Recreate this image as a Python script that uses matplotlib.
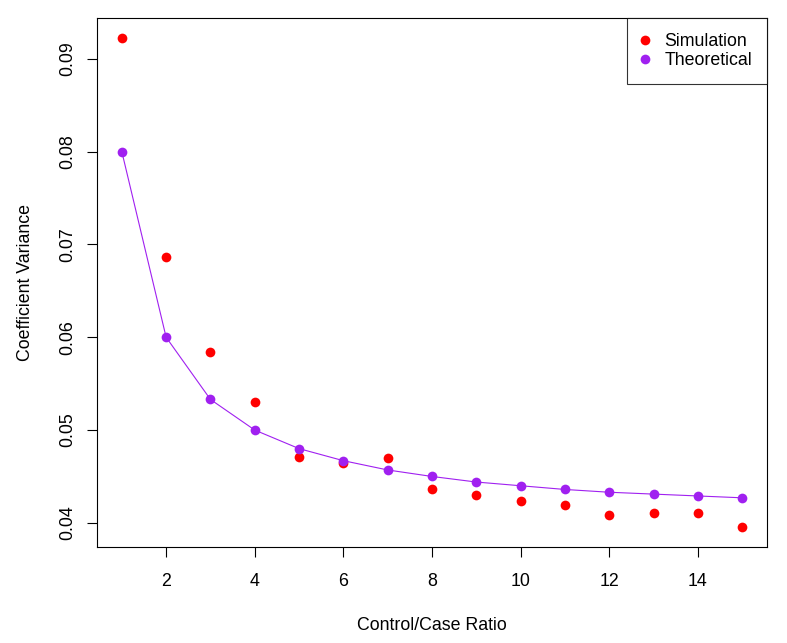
import numpy as np
import matplotlib.pyplot as plt

plt.rcParams['font.family'] = ['Liberation Sans', 'DejaVu Sans']

# Control/case ratio and coefficient variances
ratio = [1, 2, 3, 4, 5, 6, 7, 8, 9, 10, 11, 12, 13, 14, 15]
simulation = [0.0922, 0.0687, 0.0584, 0.0530, 0.0471, 0.0464, 0.0470, 0.0436,
              0.0430, 0.0424, 0.0419, 0.0408, 0.0411, 0.0411, 0.0396]
theoretical = [0.0800, 0.0600, 0.0533, 0.0500, 0.0480, 0.0467, 0.0457, 0.0450,
               0.0444, 0.0440, 0.0436, 0.0433, 0.0431, 0.0429, 0.0427]
xticks = [2, 4, 6, 8, 10, 12, 14]
yticks = [0.04, 0.05, 0.06, 0.07, 0.08, 0.09]

red = '#FF0000'
purple = '#A020F0'
fs = 12.8

fig = plt.figure(figsize=(7.87, 6.43), dpi=100)
ax = fig.add_axes([97 / 787, 96 / 643, 670 / 787, 529 / 643])

ax.plot(ratio, theoretical, color=purple, lw=0.8, zorder=2)
ax.plot(ratio, simulation, 'o', color=red, ms=7, mec='none', label='Simulation', zorder=3)
ax.plot(ratio, theoretical, 'o', color=purple, ms=7, mec='none', label='Theoretical', zorder=3)

ax.set_xlim(0.44, 15.56)
ax.set_ylim(0.0374, 0.0944)
ax.set_xticks(xticks)
ax.set_xticklabels([str(t) for t in xticks])
ax.set_yticks(yticks)
ax.set_yticklabels(['0.04', '0.05', '0.06', '0.07', '0.08', '0.09'],
                   rotation=90, va='center')
ax.tick_params(direction='out', length=7, width=0.8, labelsize=fs, pad=8)
ax.tick_params(axis='x', pad=12)

for sp in ax.spines.values():
    sp.set_linewidth(0.8)

ax.set_xlabel('Control/Case Ratio', fontsize=fs, labelpad=19)
ax.set_ylabel('Coefficient Variance', fontsize=fs, labelpad=18)

leg = ax.legend(loc='upper right', frameon=True, fancybox=False, borderaxespad=0,
                fontsize=fs, handletextpad=0.9, borderpad=0.85, labelspacing=0.12,
                handlelength=0.35)
leg.get_frame().set_edgecolor('black')
leg.get_frame().set_linewidth(0.8)

fig.savefig('out.png', dpi=100)
